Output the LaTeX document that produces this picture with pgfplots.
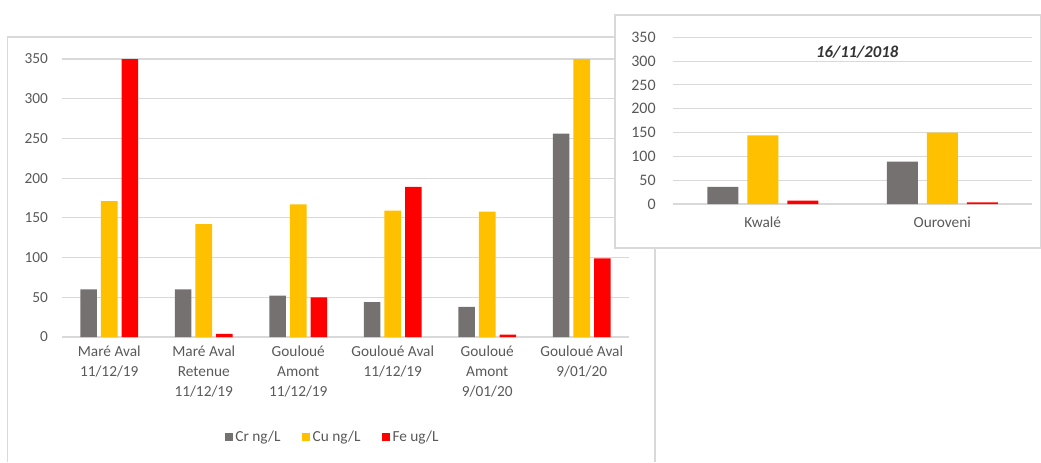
\documentclass[border=0pt]{standalone}
\usepackage{pgfplots}
\pgfplotsset{compat=1.18}
\usepackage{fontspec}
\setmainfont{Carlito}
\definecolor{crc}{HTML}{767171}
\definecolor{cuc}{HTML}{FFC000}
\definecolor{fec}{HTML}{FF0000}
\definecolor{gridc}{HTML}{D9D9D9}
\definecolor{txt}{HTML}{595959}
\begin{document}
\begin{tikzpicture}
\useasboundingbox (0,0) rectangle (780.75pt,346.5pt);
% main box
\draw[gridc, line width=0.8pt] (5.6pt,0pt) -- (5.6pt,318.75pt) -- (491.25pt,318.75pt) -- (491.25pt,0pt);
\begin{axis}[
  at={(46.5pt,93.75pt)}, anchor=south west,
  scale only axis, width=425.25pt, height=208.5pt,
  ybar=3pt, bar width=12.4pt,
  xmin=-0.5, xmax=5.5, ymin=0, ymax=350,
  ytick={0,50,...,350},
  xtick={0,1,2,3,4,5},
  xticklabels={{Maré Aval\\11/12/19},{Maré Aval\\Retenue\\11/12/19},{Gouloué\\Amont\\11/12/19},{Gouloué Aval\\11/12/19},{Gouloué\\Amont\\9/01/20},{Gouloué Aval\\9/01/20}},
  xticklabel style={align=center, font=\fontsize{11.5}{15}\selectfont, text=txt, anchor=north, yshift=-3pt},
  yticklabel style={font=\fontsize{11.5}{14}\selectfont, text=txt, anchor=east, xshift=-7pt},
  /pgf/number format/assume math mode=true,
  ymajorgrids, grid style={gridc, line width=0.8pt},
  axis line style={draw=none}, major tick length=0pt,
  legend style={at={(0.478,-0.36)}, anchor=center, draw=none, legend columns=3,
    font=\fontsize{11.5}{14}\selectfont, text=txt,
    /tikz/every even column/.append style={column sep=14pt}},
  legend image code/.code={\fill[#1] (0pt,-3pt) rectangle (6pt,3pt);},
]
\addplot[fill=crc, draw=none] coordinates {(0,60) (1,60) (2,52) (3,44) (4,38) (5,256)};
\addplot[fill=cuc, draw=none] coordinates {(0,171) (1,142) (2,167) (3,159) (4,158) (5,350)};
\addplot[fill=fec, draw=none] coordinates {(0,350) (1,4) (2,50) (3,189) (4,3) (5,99)};
\legend{Cr ng/L, Cu ng/L, Fe ug/L}
\end{axis}
% inset box
\filldraw[fill=white, draw=gridc, line width=0.8pt] (461.25pt,160.5pt) rectangle (780.3pt,335.25pt);
\begin{axis}[
  at={(504.75pt,193.5pt)}, anchor=south west,
  scale only axis, width=269.25pt, height=125pt,
  ybar=6.75pt, bar width=23.25pt,
  xmin=-0.5, xmax=1.5, ymin=0, ymax=350,
  ytick={0,50,...,350},
  xtick={0,1},
  xticklabels={Kwalé, Ouroveni},
  xticklabel style={font=\fontsize{11.5}{14}\selectfont, text=txt, anchor=north, yshift=-6pt},
  yticklabel style={font=\fontsize{12}{14}\selectfont, text=txt, anchor=east, xshift=-9.5pt},
  /pgf/number format/assume math mode=true,
  ymajorgrids, grid style={gridc, line width=0.8pt},
  axis line style={draw=none}, major tick length=0pt,
]
\addplot[fill=crc, draw=none] coordinates {(0,36) (1,89)};
\addplot[fill=cuc, draw=none] coordinates {(0,144) (1,150)};
\addplot[fill=fec, draw=none] coordinates {(0,7) (1,3.5)};
\node[font=\fontsize{12.5}{14}\selectfont\bfseries\itshape, text=black!80, fill=white, inner sep=1pt] at (axis description cs:0.513,0.912) {16/11/2018};
\end{axis}
\end{tikzpicture}
\end{document}
